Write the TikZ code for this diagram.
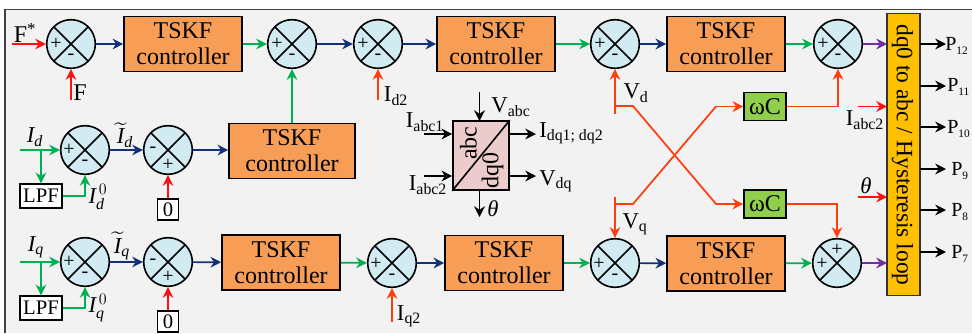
\documentclass[tikz,border=0pt]{standalone}
\usepackage{amsmath}
\usepackage{fontspec}
\setmainfont{Liberation Serif}
\usetikzlibrary{arrows.meta}
\definecolor{bgcol}{HTML}{F2F2F2}
\definecolor{sumcol}{HTML}{D2EAF1}
\definecolor{boxcol}{HTML}{F79D56}
\definecolor{wccol}{HTML}{8FCF4B}
\definecolor{barcol}{HTML}{FFC000}
\definecolor{convcol}{HTML}{EBCBCB}
\definecolor{navycol}{HTML}{14307A}
\definecolor{greencol}{HTML}{00B050}
\definecolor{redcol}{HTML}{FF1010}
\definecolor{orcol}{HTML}{FF3D0D}
\definecolor{purpcol}{HTML}{7030A0}
\newcommand{\psub}[1]{P\raisebox{-3pt}{\fontsize{8.5}{9}\selectfont #1}}
\tikzset{
	sumnode/.style={circle,draw=black,line width=1.2pt,fill=sumcol,minimum size=36.5pt,inner sep=0pt,
		path picture={\draw[line width=1.2pt] (path picture bounding box.north west) -- (path picture bounding box.south east);
			\draw[line width=1.2pt] (path picture bounding box.north east) -- (path picture bounding box.south west);}},
	tskf/.style={draw=black,line width=1.2pt,fill=boxcol,minimum width=88.5pt,minimum height=41.25pt,inner sep=0pt,align=center,
		font=\fontsize{18}{19.5}\selectfont},
	wcbox/.style={draw=black,line width=1.2pt,fill=wccol,minimum width=31.5pt,minimum height=21pt,inner sep=0pt,font=\fontsize{18}{20}\selectfont},
	whitebox/.style={draw=black,line width=1.1pt,fill=white,inner sep=0pt,font=\fontsize{15.5}{17}\selectfont},
	sign/.style={inner sep=0pt,font=\fontsize{15}{16}\selectfont},
	lab/.style={inner sep=0pt,font=\fontsize{17}{19}\selectfont},
	plab/.style={inner sep=0pt,anchor=west,font=\fontsize{15}{17}\selectfont},
	wire/.style={line width=1.3pt,-{Stealth[length=8pt,width=8pt]}},
	bluew/.style={wire,draw=navycol},
	greenw/.style={wire,draw=greencol},
	redw/.style={wire,draw=redcol},
	orw/.style={wire,draw=orcol},
	purpw/.style={wire,draw=purpcol},
	blackw/.style={wire,draw=black}
}
\begin{document}
\begin{tikzpicture}[x=0.75pt,y=-0.75pt]
	\useasboundingbox (0,0) rectangle (972,333);
	\fill[bgcol] (5,9.5) rectangle (972,333);
	\draw[line width=1.1pt,draw=black!75] (5,333) -- (5,9.5) -- (972,9.5);

	% sum blocks, first row
	\node[sumnode] (s1) at (71,44) {};
	\node[sumnode] (s2) at (292,44) {};
	\node[sumnode] (s3) at (378,44) {};
	\node[sumnode] (s4) at (615,44) {};
	\node[sumnode] (s5) at (838,44) {};
	% second row
	\node[sumnode] (s6) at (85,150) {};
	\node[sumnode] (s7) at (168,150) {};
	% third row
	\node[sumnode] (s8) at (85,262) {};
	\node[sumnode] (s9) at (168,262) {};
	\node[sumnode] (s10) at (392,263) {};
	\node[sumnode] (s11) at (615,263) {};
	\node[sumnode] (s12) at (837,263) {};

	% signs
	\node[sign] (s1p) at (56,44) {+};
	\node[sign] (s1m) at (71,57) {-};
	\node[sign] (s2p) at (277,44) {+};
	\node[sign] (s2m) at (292,57) {-};
	\node[sign] (s3p) at (363,44) {+};
	\node[sign] (s3m) at (378,57) {-};
	\node[sign] (s4p) at (600,44) {+};
	\node[sign] (s4m) at (615,57) {-};
	\node[sign] (s5p) at (823,44) {+};
	\node[sign] (s5m) at (838,57) {-};
	\node[sign] (s6p) at (69,150) {+};
	\node[sign] (s6m) at (85,163) {-};
	\node[sign] (s7m) at (153,150) {-};
	\node[sign] (s7p) at (168,165) {+};
	\node[sign] (s8p) at (69,262) {+};
	\node[sign] (s8m) at (85,275) {-};
	\node[sign] (s9m) at (153,262) {-};
	\node[sign] (s9p) at (168,277) {+};
	\node[sign] (s10p) at (376,264) {+};
	\node[sign] (s10m) at (392,277) {-};
	\node[sign] (s11p) at (599,264) {+};
	\node[sign] (s11m) at (615,277) {-};
	\node[sign] (s12t) at (837,250) {+};
	\node[sign] (s12l) at (822,264) {+};

	% controllers
	\node[tskf] (c1) at (183,44) {TSKF\\controller};
	\node[tskf] (c2) at (496,44) {TSKF\\controller};
	\node[tskf] (c3) at (726,44) {TSKF\\controller};
	\node[tskf,minimum width=94.5pt] (c4) at (292,151) {TSKF\\controller};
	\node[tskf] (c5) at (281,262.5) {TSKF\\controller};
	\node[tskf] (c6) at (504,263) {TSKF\\controller};
	\node[tskf] (c7) at (726,263.5) {TSKF\\controller};

	% small blocks
	\node[whitebox,minimum width=31.5pt,minimum height=18pt] (lpf1) at (41,196) {LPF};
	\node[whitebox,minimum width=31.5pt,minimum height=18pt] (lpf2) at (41,308) {LPF};
	\node[whitebox,minimum width=16pt,minimum height=15.75pt] (zero1) at (168,209.5) {0};
	\node[whitebox,minimum width=16pt,minimum height=15.75pt] (zero2) at (168,321.5) {0};
	\node[wcbox] (wc1) at (765,106.5) {ωC};
	\node[wcbox] (wc2) at (765,204) {ωC};

	% converter
	\node[draw=black,line width=1.2pt,fill=convcol,minimum width=42pt,minimum height=51.75pt,inner sep=0pt] (conv) at (481,155.5) {};
	\draw[line width=1.2pt] (conv.south west) -- (conv.north east);
	\node[rotate=90,inner sep=0pt,font=\fontsize{18}{20}\selectfont] (convabc) at (468.5,143) {abc};
	\node[rotate=90,inner sep=0pt,font=\fontsize{18}{20}\selectfont] (convdq) at (492.5,170) {dq0};

	% output bar
	\node[draw=black!80,line width=1.1pt,fill=barcol,minimum width=24.75pt,minimum height=211.5pt,inner sep=0pt] (bar) at (903.5,154.5) {};
	\node[rotate=-90,inner sep=0pt,font=\fontsize{17.6}{20}\selectfont] (bartxt) at (902.5,155) {dq0 to abc / Hysteresis loop};

	% free ends
	\coordinate (fin) at (12,44);
	\coordinate (fbk) at (71,100);
	\coordinate (id2in) at (378,100);
	\coordinate (idin) at (20,150);
	\coordinate (idj) at (41,150);
	\coordinate (iqin) at (20,262);
	\coordinate (iqj) at (41,262);
	\coordinate (iq2in) at (392,322);
	\coordinate (vdend) at (615,113.5);
	\coordinate (vdj) at (615,106);
	\coordinate (vdk) at (633,106);
	\coordinate (vdm) at (716,204);
	\coordinate (vqend) at (615,197);
	\coordinate (vqj) at (615,204);
	\coordinate (vqk) at (633,204);
	\coordinate (vqm) at (716,106.5);
	\coordinate (ia2in) at (858,106.5);
	\coordinate (ia2bar) at (887,106.5);
	\coordinate (thin) at (858,197);
	\coordinate (thbar) at (887,197);
	\coordinate (s5bar) at (887,44);
	\coordinate (s12bar) at (887,263);
	\coordinate (vabcin) at (479.5,92);
	\coordinate (vabcc) at (479.5,121);
	\coordinate (ia1in) at (424,134);
	\coordinate (ia2ci) at (424,176);
	\coordinate (idqo) at (509,134);
	\coordinate (idqe) at (536,134);
	\coordinate (vdqo) at (509,176);
	\coordinate (vdqe) at (536,176);
	\coordinate (tho) at (479.5,190);
	\coordinate (the) at (479.5,217);
	\coordinate (p12o) at (920,44);
	\coordinate (p12e) at (946,44);
	\coordinate (p11o) at (920,86);
	\coordinate (p11e) at (946,86);
	\coordinate (p10o) at (920,127);
	\coordinate (p10e) at (946,127);
	\coordinate (p9o) at (920,169);
	\coordinate (p9e) at (946,169);
	\coordinate (p8o) at (920,210);
	\coordinate (p8e) at (946,210);
	\coordinate (p7o) at (920,252);
	\coordinate (p7e) at (946,252);

	% first row wires
	\draw[redw] (fin) -- (s1);
	\draw[redw] (fbk) -- (s1);
	\draw[bluew] (s1) -- (c1);
	\draw[greenw] (c1) -- (s2);
	\draw[bluew] (s2) -- (s3);
	\draw[orw] (id2in) -- (s3);
	\draw[bluew] (s3) -- (c2);
	\draw[greenw] (c2) -- (s4);
	\draw[bluew] (s4) -- (c3);
	\draw[greenw] (c3) -- (s5);
	\draw[purpw] (s5) -- (s5bar);

	% second row wires
	\draw[greenw] (idin) -- (s6);
	\draw[greenw] (idj) -- (lpf1);
	\draw[greenw] (lpf1.east) -| (s6.south);
	\draw[bluew] (s6) -- (s7);
	\draw[redw] (zero1) -- (s7);
	\draw[bluew] (s7) -- (c4.west |- s7);
	\draw[greenw] (c4) -- (s2);

	% third row wires
	\draw[greenw] (iqin) -- (s8);
	\draw[greenw] (iqj) -- (lpf2);
	\draw[greenw] (lpf2.east) -| (s8.south);
	\draw[bluew] (s8) -- (s9);
	\draw[redw] (zero2) -- (s9);
	\draw[bluew] (s9) -- (c5);
	\draw[greenw] (c5) -- (s10);
	\draw[orw] (iq2in) -- (s10);
	\draw[bluew] (s10) -- (c6);
	\draw[greenw] (c6) -- (s11);
	\draw[bluew] (s11) -- (c7);
	\draw[greenw] (c7) -- (s12);
	\draw[purpw] (s12) -- (s12bar);

	% cross coupling
	\draw[orw] (vdend) -- (s4);
	\draw[orw,-] (vdj) -- (vdk) -- (vdm);
	\draw[orw] (vdm) -- (wc2);
	\draw[orw] (vqend) -- (s11);
	\draw[orw,-] (vqj) -- (vqk) -- (vqm);
	\draw[orw] (vqm) -- (wc1);
	\draw[orw] (wc1.east) -| (s5.south);
	\draw[orw] (wc2.east) -| (s12.north);
	\draw[redw] (ia2in) -- (ia2bar);
	\draw[redw] (thin) -- (thbar);

	% converter wires
	\draw[blackw] (vabcin) -- (vabcc);
	\draw[blackw] (ia1in) -- (conv.west |- ia1in);
	\draw[blackw] (ia2ci) -- (conv.west |- ia2ci);
	\draw[blackw] (idqo) -- (idqe);
	\draw[blackw] (vdqo) -- (vdqe);
	\draw[blackw] (tho) -- (the);

	% pulses
	\draw[blackw] (p12o) -- (p12e);
	\draw[blackw] (p11o) -- (p11e);
	\draw[blackw] (p10o) -- (p10e);
	\draw[blackw] (p9o) -- (p9e);
	\draw[blackw] (p8o) -- (p8e);
	\draw[blackw] (p7o) -- (p7e);

	% labels
	\node[lab,font=\fontsize{18}{20}\selectfont] (lfs) at (25,33) {F\textsuperscript{*}};
	\node[lab,font=\fontsize{18}{20}\selectfont] (lf) at (80,93) {F};
	\node[lab] (lid2) at (396,96) {I\textsubscript{d2}};
	\node[lab] (lid) at (35,137) {$\textit{I}_{\textit{d}}$};
	\node[lab] (lidt) at (125,135) {$\widetilde{\textit{I}}_{\textit{d}}$};
	\node[lab] (lid0) at (98,197) {$\textit{I}_{\textit{d}}^{\,0}$};
	\node[lab] (liq) at (36,247) {$\textit{I}_{\textit{q}}$};
	\node[lab] (liqt) at (122,246) {$\widetilde{\textit{I}}_{\textit{q}}$};
	\node[lab] (liq0) at (98,308) {$\textit{I}_{\textit{q}}^{\,0}$};
	\node[lab] (liq2) at (409,316) {I\textsubscript{q2}};
	\node[lab] (lvabc) at (511,107) {V\textsubscript{abc}};
	\node[lab] (lia1) at (425,122) {I\textsubscript{abc1}};
	\node[lab] (lia2) at (428,185) {I\textsubscript{abc2}};
	\node[lab,anchor=west] (lidq) at (539,133) {I\textsubscript{dq1; dq2}};
	\node[lab,anchor=west] (lvdq) at (539,181) {V\textsubscript{dq}};
	\node[lab] (lth) at (493,209) {\textit{θ}};
	\node[lab] (lvd) at (636,93) {V\textsubscript{d}};
	\node[lab] (lvq) at (635,224) {V\textsubscript{q}};
	\node[lab] (lia3) at (865,120) {I\textsubscript{abc2}};
	\node[lab] (lth2) at (866,186) {\textit{θ}};
	\node[plab] (lp12) at (945,46) {\psub{12}};
	\node[plab] (lp11) at (947,87) {\psub{11}};
	\node[plab] (lp10) at (947,129) {\psub{10}};
	\node[plab] (lp9) at (951,171) {\psub{9}};
	\node[plab] (lp8) at (951,212) {\psub{8}};
	\node[plab] (lp7) at (951,254) {\psub{7}};
\end{tikzpicture}
\end{document}
